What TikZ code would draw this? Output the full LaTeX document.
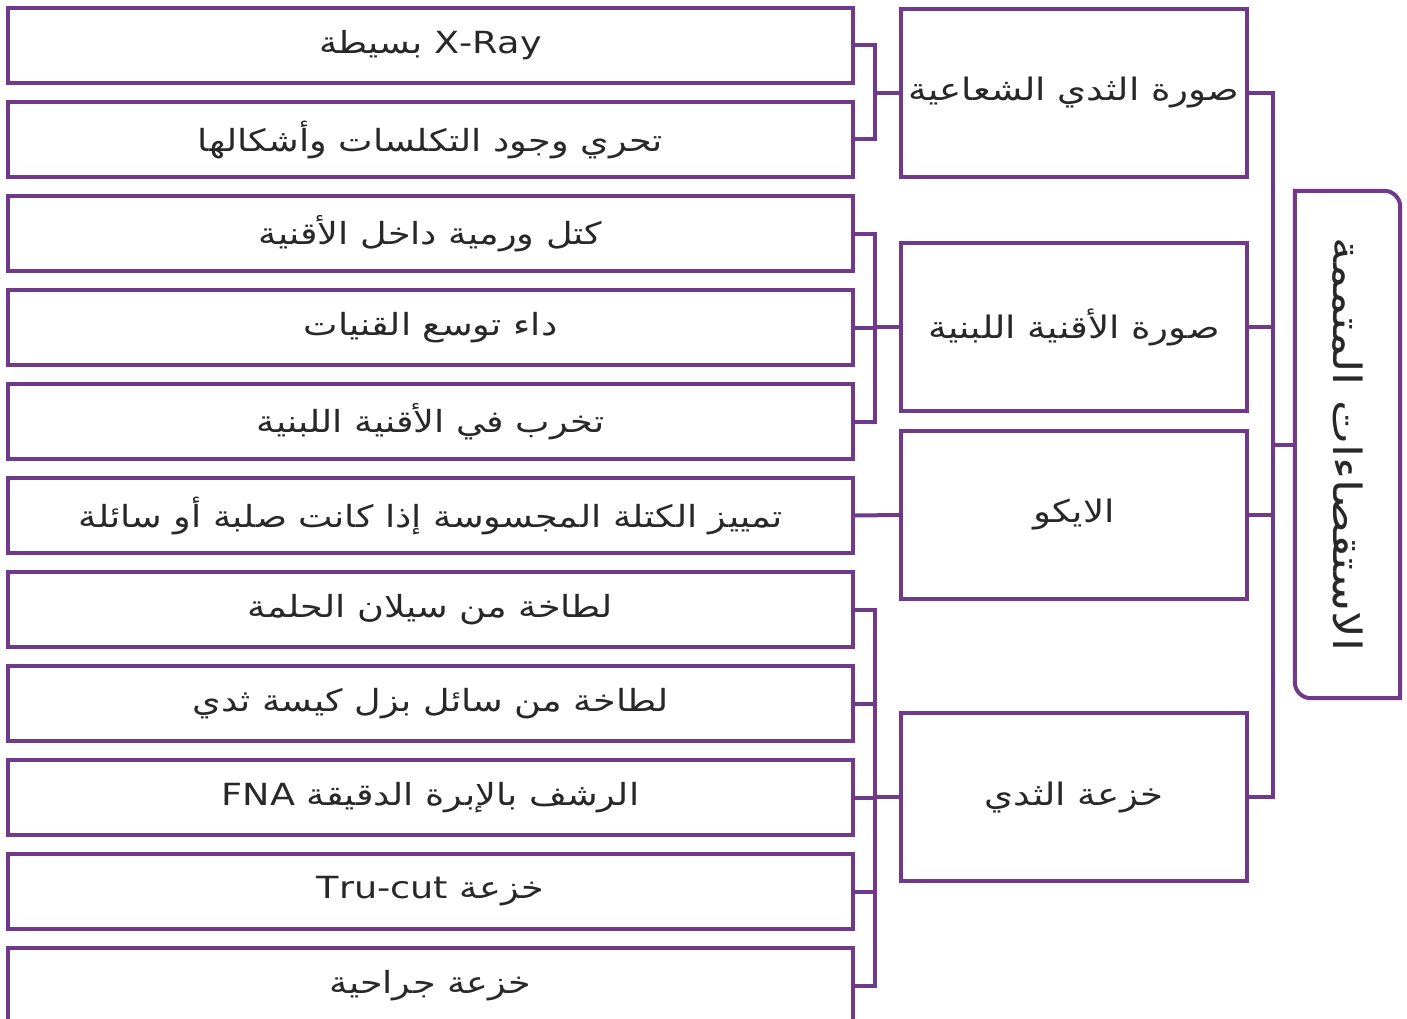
\documentclass[tikz,border=0pt]{standalone}
\usepackage{fontspec}
\newfontfamily\arabicfont[Script=Arabic,FakeStretch=1.2]{DejaVu Sans}
\TeXXeTstate=1
\definecolor{purp}{RGB}{113,57,139}
\definecolor{txt}{RGB}{40,40,40}
\tikzset{
  leafbox/.style={draw=purp, line width=4pt, minimum width=845pt, minimum height=75pt, inner sep=0pt, text=txt, font=\arabicfont\fontsize{30.5}{35}\selectfont},
  midbox/.style={draw=purp, line width=4pt, minimum width=346pt, minimum height=168pt, inner sep=0pt, text=txt, font=\arabicfont\fontsize{31}{36}\selectfont},
  link/.style={draw=purp, line width=4pt}
}
\begin{document}
\begin{tikzpicture}[x=1pt,y=1pt]
\useasboundingbox (0,0) rectangle (1407,-1019);
% leaf boxes
\node[leafbox] (l1) at (430.5,-45.5) {\raisebox{3pt}{\beginR\beginL X-Ray\endL{} بسيطة\endR}};
\node[leafbox] (l2) at (430.5,-139.5) {\raisebox{3pt}{\beginR تحري وجود التكلسات وأشكالها\endR}};
\node[leafbox] (l3) at (430.5,-233.5) {\raisebox{3pt}{\beginR كتل ورمية داخل الأقنية\endR}};
\node[leafbox] (l4) at (430.5,-327.5) {\raisebox{3pt}{\beginR داء توسع القنيات\endR}};
\node[leafbox] (l5) at (430.5,-421.5) {\raisebox{3pt}{\beginR تخرب في الأقنية اللبنية\endR}};
\node[leafbox] (l6) at (430.5,-515.5) {\raisebox{3pt}{\beginR تمييز الكتلة المجسوسة إذا كانت صلبة أو سائلة\endR}};
\node[leafbox] (l7) at (430.5,-609.5) {\raisebox{3pt}{\beginR لطاخة من سيلان الحلمة\endR}};
\node[leafbox] (l8) at (430.5,-703.5) {\raisebox{3pt}{\beginR لطاخة من سائل بزل كيسة ثدي\endR}};
\node[leafbox] (l9) at (430.5,-797.5) {\raisebox{3pt}{\beginR الرشف بالإبرة الدقيقة \beginL FNA\endL\endR}};
\node[leafbox] (l10) at (430.5,-891.5) {\raisebox{3pt}{\beginR خزعة \beginL Tru-cut\endL\endR}};
\node[leafbox] (l11) at (430.5,-985.5) {\raisebox{3pt}{\beginR خزعة جراحية\endR}};
% middle boxes
\node[midbox] (m1) at (1074,-93) {\raisebox{6pt}{\beginR صورة الثدي الشعاعية\endR}};
\node[midbox] (m2) at (1074,-327) {\beginR صورة الأقنية اللبنية\endR};
\node[midbox] (m3) at (1074,-515) {\beginR الايكو\endR};
\node[midbox] (m4) at (1074,-797) {\beginR خزعة الثدي\endR};
% root
\node[minimum width=105pt, minimum height=507pt, inner sep=0pt] (root) at (1347.5,-444.5) {};
\node[rotate=-90, text=txt, font=\arabicfont\fontsize{39}{44}\selectfont] (roottext) at (root.center) {\beginR الاستقصاءات المتممة\endR};
\draw[link] (root.north west) -- ([xshift=-16pt]root.north east) arc[start angle=90, end angle=0, radius=16pt] -- (root.south east) -- ([xshift=16pt]root.south west) arc[start angle=270, end angle=180, radius=16pt] -- cycle;
% brackets left
\draw[link] (m1.west) -- ++(-24,0) |- (l1.east);
\draw[link] (m1.west) -- ++(-24,0) |- (l2.east);
\foreach \i in {3,4,5}{\draw[link] (m2.west) -- ++(-24,0) |- (l\i.east);}
\draw[link] (m3.west) -- (l6.east);
\foreach \i in {7,8,9,10,11}{\draw[link] (m4.west) -- ++(-24,0) |- (l\i.east);}
% right trunk
\foreach \i in {1,2,3,4}{\draw[link] (m\i.east) -- ++(24,0) |- (root.west);}
\end{tikzpicture}
\end{document}
